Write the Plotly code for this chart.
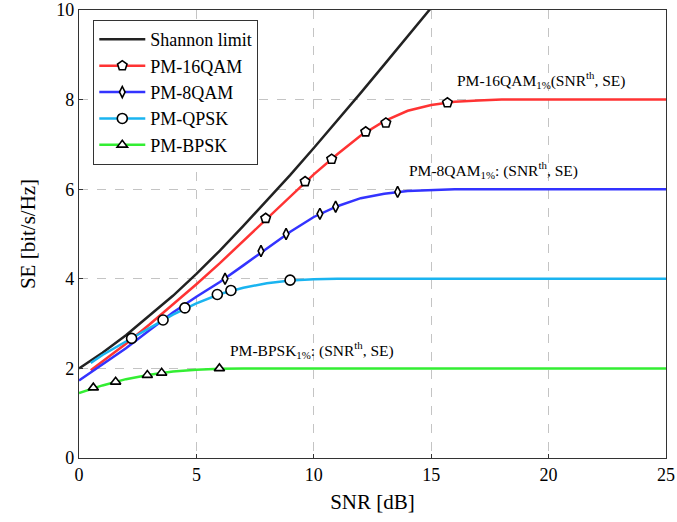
import plotly.graph_objects as go

# Shannon limit
sh_x = [0, 1, 2, 3, 4, 5, 6, 7, 8, 9, 10, 11, 12, 13, 14, 15]
sh_y = [2.00, 2.35, 2.74, 3.17, 3.62, 4.11, 4.63, 5.18, 5.74, 6.32, 6.92, 7.53, 8.15, 8.78, 9.41, 10.05]

# PM-16QAM curve and markers
q16_x = [0.5, 1, 2, 3, 4, 5, 6, 7, 8, 9, 10, 11, 12, 13, 14, 15, 16, 17, 18, 25]
q16_y = [1.96, 2.15, 2.55, 2.98, 3.42, 3.88, 4.35, 4.85, 5.35, 5.85, 6.33, 6.78, 7.20, 7.52, 7.75, 7.88, 7.95, 7.98, 8.0, 8.0]
q16_mx = [7.95, 9.63, 10.76, 12.21, 13.07, 15.69]
q16_my = [5.35, 6.17, 6.67, 7.28, 7.48, 7.93]

# PM-8QAM
q8_x = [0, 1, 2, 3, 4, 5, 6, 7, 8, 9, 10, 11, 12, 13, 14, 15, 16, 25]
q8_y = [1.73, 2.08, 2.45, 2.85, 3.25, 3.60, 3.93, 4.30, 4.68, 5.05, 5.38, 5.62, 5.80, 5.90, 5.96, 5.98, 6.0, 6.0]
q8_mx = [6.22, 7.75, 8.82, 10.26, 10.93, 13.57]
q8_my = [4.00, 4.62, 5.00, 5.45, 5.61, 5.94]

# PM-QPSK
qp_x = [0.5, 1, 2, 3, 4, 5, 6, 7, 8, 9, 10, 11, 25]
qp_y = [2.12, 2.30, 2.60, 2.90, 3.20, 3.45, 3.66, 3.80, 3.90, 3.96, 3.99, 4.0, 4.0]
qp_mx = [2.24, 3.58, 4.51, 5.89, 6.47, 8.99]
qp_my = [2.67, 3.08, 3.35, 3.65, 3.74, 3.97]

# PM-BPSK
bp_x = [0, 1, 2, 3, 4, 5, 6, 7, 25]
bp_y = [1.45, 1.62, 1.76, 1.86, 1.93, 1.97, 1.99, 2.0, 2.0]
bp_mx = [0.61, 1.56, 2.91, 3.52, 5.98]
bp_my = [1.57, 1.70, 1.85, 1.90, 2.00]

x_ticks = [0, 5, 10, 15, 20, 25]
y_ticks = [0, 2, 4, 6, 8, 10]

FONT = "Liberation Serif"

series = [
    ("PM-16QAM", q16_x, q16_y, q16_mx, q16_my, "#ff3333", "pentagon"),
    ("PM-8QAM", q8_x, q8_y, q8_mx, q8_my, "#3333ff", "diamond-tall"),
    ("PM-QPSK", qp_x, qp_y, qp_mx, qp_my, "#1ab4f0", "circle"),
    ("PM-BPSK", bp_x, bp_y, bp_mx, bp_my, "#33ee33", "triangle-up"),
]

fig = go.Figure()
fig.add_trace(go.Scatter(x=sh_x, y=sh_y, mode="lines", name="Shannon limit",
                         line=dict(color="#222222", width=2.5)))
marker_sizes = {"pentagon": 10, "diamond-tall": 8, "circle": 10, "triangle-up": 9}
for name, cx, cy, mx, my, col, sym in series:
    fig.add_trace(go.Scatter(x=cx, y=cy, mode="lines", showlegend=False,
                             line=dict(color=col, width=2.5), hoverinfo="skip"))
for name, cx, cy, mx, my, col, sym in series:
    fig.add_trace(go.Scatter(x=mx, y=my, mode="markers", showlegend=False,
                             marker=dict(symbol=sym, size=marker_sizes[sym], color="white",
                                         line=dict(color="black", width=1.6))))
for name, cx, cy, mx, my, col, sym in series:
    fig.add_trace(go.Scatter(x=[None], y=[None], mode="lines+markers", name=name,
                             line=dict(color=col, width=2.5),
                             marker=dict(symbol=sym, size=marker_sizes[sym], color="white",
                                         line=dict(color="black", width=1.6))))

ann_font = dict(family=FONT, size=15.5, color="black")
fig.add_annotation(x=16.0, y=8.44, xanchor="left", yanchor="middle", showarrow=False,
                   text="PM-16QAM<sub>1%</sub>(SNR<sup>th</sup>, SE)", font=ann_font)
fig.add_annotation(x=13.97, y=6.43, xanchor="left", yanchor="middle", showarrow=False,
                   text="PM-8QAM<sub>1%</sub>: (SNR<sup>th</sup>, SE)", font=ann_font)
fig.add_annotation(x=6.35, y=2.41, xanchor="left", yanchor="middle", showarrow=False,
                   text="PM-BPSK<sub>1%</sub>: (SNR<sup>th</sup>, SE)", font=ann_font)

axis_common = dict(showgrid=True, gridcolor="#c4c4c4", griddash="dash", gridwidth=1,
                   showline=True, linecolor="#333333", linewidth=1.2, mirror=True,
                   zeroline=False, ticks="inside", ticklen=4, tickcolor="#333333",
                   automargin=False,
                   tickfont=dict(family=FONT, size=18, color="black"))

fig.update_layout(
    width=677, height=522,
    margin=dict(l=79, r=11, t=10, b=64, autoexpand=False),
    paper_bgcolor="white", plot_bgcolor="white",
    font=dict(family=FONT, size=18, color="black"),
    xaxis=dict(range=[0, 25], tickvals=x_ticks,
               title=dict(text="SNR [dB]", font=dict(family=FONT, size=21), standoff=10),
               **axis_common),
    yaxis=dict(range=[0, 10], tickvals=y_ticks,
               title=dict(text="SE [bit/s/Hz]", font=dict(family=FONT, size=21), standoff=14),
               **axis_common),
    legend=dict(x=0.024, y=0.978, xanchor="left", yanchor="top",
                bgcolor="white", bordercolor="#333333", borderwidth=1.2,
                font=dict(family=FONT, size=18), itemwidth=46, tracegroupgap=0),
    showlegend=True,
)

fig.write_html("out.html", config={"displayModeBar": False},
               post_script="document.body.style.margin='0';")
